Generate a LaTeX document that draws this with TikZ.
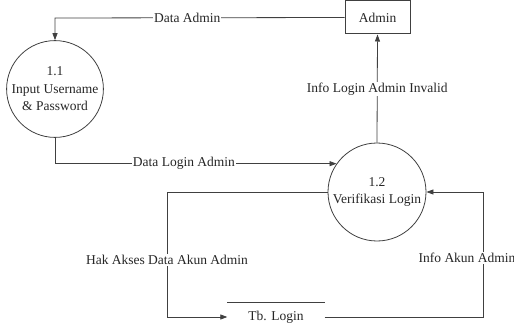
\documentclass[tikz,border=0pt]{standalone}
\usepackage{fontspec}
\setmainfont{Liberation Serif}
\usetikzlibrary{arrows.meta}
\tikzset{
  base/.style={font=\fontsize{13.5}{17.5}\selectfont, text=black!85},
  process/.style={base, circle, draw=black!75, line width=0.8pt, align=center, inner sep=0pt},
  entity/.style={base, rectangle, draw=black!75, line width=1pt, minimum width=65pt, minimum height=33pt, inner sep=0pt},
  store/.style={base, rectangle, minimum width=97pt, minimum height=28pt, inner sep=0pt},
  flow/.style={draw=black!75, line width=0.8pt, -{Triangle[length=7pt,width=5pt]}},
  lbl/.style={base, fill=white, inner sep=1pt}
}
\begin{document}
\begin{tikzpicture}[x=1pt,y=-1pt]
\useasboundingbox (0,0) rectangle (514,326);

% external entity and processes
\node[entity] (admin) at (377.5,17.5) {Admin};
\node[process, minimum size=96pt] (c11) at (55,89) {1.1\\Input Username\\\& Password};
\node[process, minimum size=98pt] (c12) at (377,192) {1.2\\Verifikasi Login};

% data store: only its top edge is drawn
\node[store] (tb) at (276,317) {Tb. Login};
\draw[black!75, line width=0.8pt] (tb.north west) -- (tb.north east);

% bend points
\coordinate (tl) at (55,18);
\coordinate (ll) at (167,192);
\coordinate (rr) at (483,192);

% data flows
\draw[flow] (admin.west) -- node[lbl, pos=0.543] {Data Admin} (tl) -- (c11.north);
\draw[flow] (c11.south) |- node[lbl, pos=0.729] {Data Login Admin} (c12.145);
\draw[flow] (c12.north) -- node[lbl, pos=0.495] {Info Login Admin Invalid} (admin.south);
\draw[flow] (c12.west) -- (ll) |- node[lbl, pos=0.272] {Hak Akses Data Akun Admin} (tb.west);
\draw[flow] (tb.east) -| node[lbl, pos=0.736, xshift=-16pt] {Info Akun Admin} (rr) -- (c12.east);
\end{tikzpicture}
\end{document}
